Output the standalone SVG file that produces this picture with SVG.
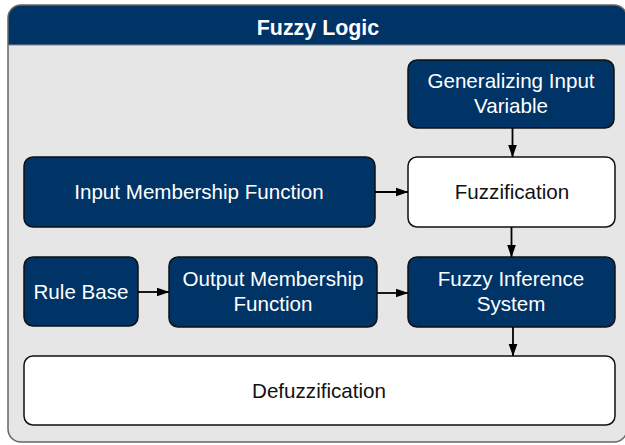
<svg xmlns="http://www.w3.org/2000/svg" width="625" height="445" viewBox="0 0 625 445">
  <style>
    .dark { fill: #003366; stroke: #111111; stroke-width: 1.5; }
    .light { fill: #ffffff; stroke: #111111; stroke-width: 1.5; }
    .lbl { font-family: "Liberation Sans", Arial, sans-serif; font-size: 20.6px; text-anchor: middle; }
    .w { fill: #ffffff; }
    .k { fill: #111111; }
    .edge { stroke: #000000; stroke-width: 1.8; fill: none; marker-end: url(#arrow); }
  </style>
  <defs>
    <marker id="arrow" markerWidth="13" markerHeight="10" refX="12.5" refY="5" orient="auto" markerUnits="userSpaceOnUse">
      <path d="M0,0.5 L13,5 L0,9.5 Z" fill="#000000"/>
    </marker>
    <clipPath id="titleClip">
      <rect x="8" y="5" width="625" height="40"/>
    </clipPath>
  </defs>

  <!-- container with title bar -->
  <g id="container">
    <rect x="8" y="5" width="619" height="437" rx="13" fill="#e6e6e6"/>
    <rect x="8" y="5" width="619" height="60" rx="13" fill="#003366" clip-path="url(#titleClip)"/>
    <rect x="8" y="5" width="619" height="437" rx="13" fill="none" stroke="#666666" stroke-width="1.5"/>
    <line x1="8.75" y1="45" x2="626.25" y2="45" stroke="#8a8a8a" stroke-width="1"/>
    <text x="318" y="35" class="lbl w" style="font-weight:bold;font-size:21.4px">Fuzzy Logic</text>
  </g>

  <g id="generalizing">
    <rect x="408" y="60" width="206" height="68" rx="9" class="dark"/>
    <text x="511" y="88" class="lbl w">Generalizing Input</text>
    <text x="511" y="112.5" class="lbl w">Variable</text>
  </g>

  <g id="input-mf">
    <rect x="24" y="157" width="351" height="70" rx="9" class="dark"/>
    <text x="199" y="199" class="lbl w">Input Membership Function</text>
  </g>

  <g id="fuzzification">
    <rect x="408" y="157" width="207" height="70" rx="9" class="light"/>
    <text x="512" y="199" class="lbl k">Fuzzification</text>
  </g>

  <g id="rule-base">
    <rect x="24" y="257" width="114" height="69" rx="9" class="dark"/>
    <text x="81" y="298.5" class="lbl w">Rule Base</text>
  </g>

  <g id="output-mf">
    <rect x="169" y="257" width="208" height="70" rx="9" class="dark"/>
    <text x="273" y="286" class="lbl w">Output Membership</text>
    <text x="273" y="310.5" class="lbl w">Function</text>
  </g>

  <g id="fis">
    <rect x="408" y="257" width="207" height="70" rx="9" class="dark"/>
    <text x="511" y="286" class="lbl w">Fuzzy Inference</text>
    <text x="511" y="310.5" class="lbl w">System</text>
  </g>

  <g id="defuzzification">
    <rect x="24" y="356" width="591" height="69" rx="9" class="light"/>
    <text x="319" y="397.8" class="lbl k">Defuzzification</text>
  </g>

  <g id="connectors">
    <line x1="512.5" y1="128" x2="512.5" y2="157" class="edge"/>
    <line x1="375" y1="192" x2="408" y2="192" class="edge"/>
    <line x1="511.5" y1="227" x2="511.5" y2="257" class="edge"/>
    <line x1="138" y1="292" x2="169" y2="292" class="edge"/>
    <line x1="377" y1="293" x2="408" y2="293" class="edge"/>
    <line x1="513" y1="327" x2="513" y2="356" class="edge"/>
  </g>
</svg>
